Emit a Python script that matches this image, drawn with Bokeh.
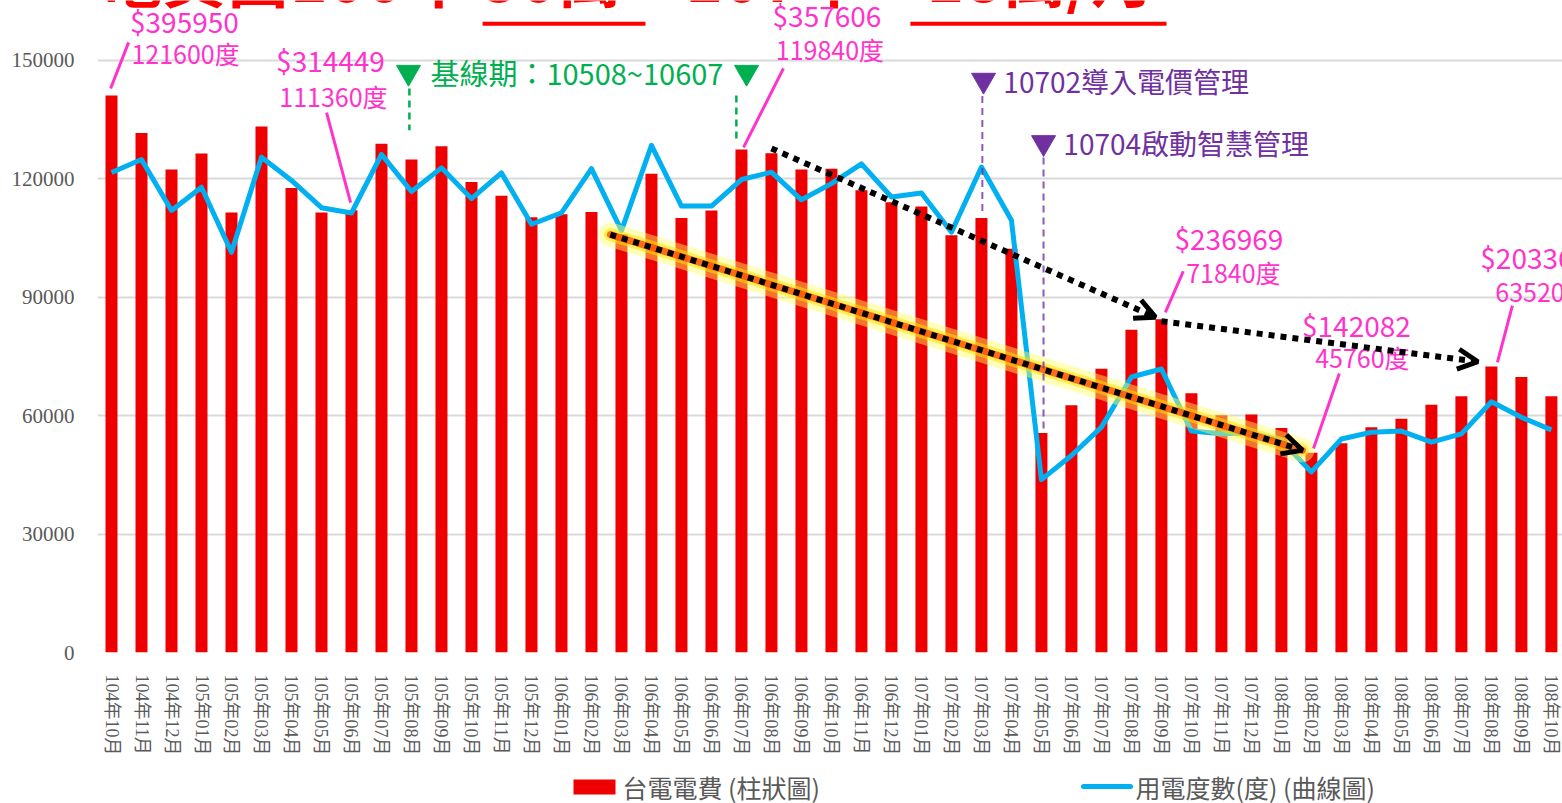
from bokeh.plotting import figure
from bokeh.layouts import column
from bokeh.models import (Range1d, FixedTicker, NumeralTickFormatter,
                          Arrow, OpenHead, ColumnDataSource)
from bokeh.core.properties import value
from bokeh.embed import file_html
from bokeh.resources import INLINE

# ---------------- data ----------------
months = ["104年10月", "104年11月", "104年12月",
          "105年01月", "105年02月", "105年03月", "105年04月", "105年05月", "105年06月",
          "105年07月", "105年08月", "105年09月", "105年10月", "105年11月", "105年12月",
          "106年01月", "106年02月", "106年03月", "106年04月", "106年05月", "106年06月",
          "106年07月", "106年08月", "106年09月", "106年10月", "106年11月", "106年12月",
          "107年01月", "107年02月", "107年03月", "107年04月", "107年05月", "107年06月",
          "107年07月", "107年08月", "107年09月", "107年10月", "107年11月", "107年12月",
          "108年01月", "108年02月", "108年03月", "108年04月", "108年05月", "108年06月",
          "108年07月", "108年08月", "108年09月", "108年10月"]

# 台電電費 (元) - bars, drawn on a hidden secondary scale
fee = [395950, 369300, 343400, 354700, 312900, 374000, 330300, 312900, 314449,
       361700, 350500, 360000, 334500, 324700, 309500, 311500, 313100, 297400,
       340400, 308900, 314300, 357606, 355000, 343400, 344000, 328600, 320200,
       317100, 296600, 308900, 287100, 156000, 175700, 201800, 229500, 236969,
       184400, 168600, 169200, 159700, 142082, 148700, 160200, 166100, 176200,
       182100, 203360, 195900, 182100]

# 用電度數 (度) - line
kwh = [121600, 124900, 112000, 117900, 101400, 125500, 119600, 112700, 111360,
       126200, 116800, 122800, 115000, 121500, 108500, 111400, 122600, 106900,
       128500, 113100, 113100, 119840, 121700, 114700, 118800, 123800, 115400,
       116400, 106500, 123000, 109500, 43800, 49900, 57100, 69800, 71840,
       56100, 55400, 55600, 53700, 45760, 54100, 55800, 56100, 53300,
       55400, 63520, 59600, 56400]

y_ticks = [0, 30000, 60000, 90000, 120000, 150000]
callout_idx = [0, 8, 21, 35, 40, 46]

title_text = "電費由100年 50萬↘107年：18萬/月"
legend_fee = "台電電費 (柱狀圖)"
legend_kwh = "用電度數(度) (曲線圖)"
baseline_text = "基線期：10508~10607"
event1_text = "10702導入電價管理"
event2_text = "10704啟動智慧管理"

assert len(months) == len(fee) == len(kwh) == 49

# ---------------- layout constants ----------------
FEE_RATIO = 2.806          # fee axis units per kWh axis unit
Y_END = 165200
X_START, X_END = -0.467, 48.37
W = 1562
LEFT = 97
MAIN_H, LEG_H = 760, 43

PINK = "#ff33cc"
GREEN = "#00b050"
PURPLE = "#7030a0"
RED = "#ee0000"
BLUE = "#00b0f0"
GRAY = "#595959"
CJK = value("Noto Sans CJK TC")

p = figure(width=W, height=MAIN_H, output_backend="svg", toolbar_location=None,
           x_range=Range1d(X_START, X_END), y_range=Range1d(0, Y_END),
           min_border_left=LEFT, min_border_right=0, min_border_top=0, min_border_bottom=108)
p.extra_y_ranges = {"fee": Range1d(0, Y_END * FEE_RATIO)}
p.outline_line_color = None
p.background_fill_color = "white"
p.border_fill_color = "white"

x = list(range(len(months)))
src = ColumnDataSource(dict(x=x, fee=fee, kwh=kwh))

bars = p.vbar(x="x", top="fee", width=0.4, source=src, y_range_name="fee",
              fill_color=RED, line_color=None)
line = p.line(x="x", y="kwh", source=src, line_color=BLUE, line_width=5,
              line_join="round")

# axes
p.xgrid.visible = False
p.ygrid.grid_line_color = "#d9d9d9"
p.ygrid.grid_line_width = 2
p.ygrid.ticker = FixedTicker(ticks=y_ticks)

p.yaxis.ticker = FixedTicker(ticks=y_ticks)
p.yaxis.formatter = NumeralTickFormatter(format="0")
p.yaxis.axis_line_color = None
p.yaxis.major_tick_line_color = None
p.yaxis.minor_tick_line_color = None
p.yaxis.major_label_standoff = 17
p.yaxis.major_label_text_font = "Liberation Serif"
p.yaxis.major_label_text_font_size = "21px"
p.yaxis.major_label_text_color = GRAY

p.xaxis.ticker = FixedTicker(ticks=x)
p.xaxis.major_label_overrides = {i: m for i, m in enumerate(months)}
p.xaxis.major_label_orientation = "vertical"
p.xaxis.axis_line_color = None
p.xaxis.major_tick_line_color = None
p.xaxis.minor_tick_line_color = None
p.xaxis.major_label_standoff = 16
p.xaxis.major_label_text_font = "Liberation Serif, Noto Sans CJK TC"
p.xaxis.major_label_text_font_size = "18px"
p.xaxis.major_label_text_color = GRAY

# ---------------- title (cut at the top edge, as in the source picture) ----------------
p.text(x=[-0.45], y=[172000], text=[title_text], text_font=CJK, text_font_size="64px",
       text_font_style="bold", text_color="#ff0000", text_baseline="middle")
p.segment(x0=[12.37, 26.63], y0=[159300, 159300], x1=[17.8, 35.17], y1=[159300, 159300],
          line_color="#ff0000", line_width=4)

# ---------------- trend lines ----------------
lx0, ly0 = 16.63, kwh[17] - 1000
lx1, ly1 = 39.7, fee[40] / FEE_RATIO + 600
for w, c, a in [(24, "#ffff66", 0.45), (13, "#ffe000", 0.55), (7, "#ff4000", 0.75)]:
    p.line([lx0, lx1], [ly0, ly1], line_width=w, line_color=c, line_alpha=a, line_cap="round")

arrows = [
    (22.0, fee[22] / FEE_RATIO + 1200, 34.8, fee[35] / FEE_RATIO + 500),
    (35.0, fee[35] / FEE_RATIO - 500, 45.55, fee[46] / FEE_RATIO + 1200),
    (lx0, ly0, lx1, ly1),
]
for xs, ys, xe, ye in arrows:
    p.add_layout(Arrow(x_start=xs, y_start=ys, x_end=xe, y_end=ye, line_color="black",
                       line_width=6, line_dash="6 6",
                       end=OpenHead(line_color="black", line_width=5, size=20)))

# ---------------- markers & event lines ----------------
p.segment(x0=[9.93, 20.83], y0=[142900, 141100], x1=[9.93, 20.83], y1=[132300, 129700],
          line_color=GREEN, line_width=2.5, line_dash="7 5")
p.scatter(x=[9.9, 21.17], y=[147000, 147000], marker="inverted_triangle", size=24,
          fill_color=GREEN, line_color=GREEN)
p.text(x=[10.63], y=[147000], text=[baseline_text], text_font=CJK, text_font_size="29px",
       text_color=GREEN, text_baseline="middle")

p.segment(x0=[29.03, 31.07], y0=[141000, 125400], x1=[29.03, 31.07], y1=[111000, 56300],
          line_color=PURPLE, line_width=2, line_dash="7 5", line_alpha=0.8)
p.scatter(x=[29.07, 31.07], y=[145000, 129200], marker="inverted_triangle", size=24,
          fill_color=PURPLE, line_color=PURPLE)
p.text(x=[29.73, 31.73], y=[144700, 129200], text=[event1_text, event2_text], text_font=CJK,
       text_font_size="28px", text_color=PURPLE, text_baseline="middle")

# ---------------- callouts (pink) ----------------
callout_lines = [(-0.03, 142900, 0.57, 154600),
                 (7.97, 114000, 7.17, 136800),
                 (21.07, 128000, 22.4, 148000),
                 (35.13, 86200, 35.73, 96600),
                 (40.07, 51700, 40.93, 70700),
                 (46.2, 73500, 46.7, 87900)]
p.segment(x0=[c[0] for c in callout_lines], y0=[c[1] for c in callout_lines],
          x1=[c[2] for c in callout_lines], y1=[c[3] for c in callout_lines],
          line_color=PINK, line_width=3)

fee_label_pos = [(2.43, 160100, "center"), (7.3, 150000, "center"), (23.85, 161400, "center"),
                 (37.25, 104900, "center"), (41.5, 82900, "center"), (45.63, 100100, "left")]
kwh_label_pos = [(2.47, 152000, "center"), (7.4, 140900, "center"), (23.95, 152800, "center"),
                 (37.4, 96500, "center"), (41.7, 74800, "center"), (46.13, 91700, "left")]
for k, i in enumerate(callout_idx):
    fx, fy, fa = fee_label_pos[k]
    kx, ky, ka = kwh_label_pos[k]
    p.text(x=[fx], y=[fy], text=[f"${fee[i]}"], text_font=CJK, text_font_size="28px",
           text_color=PINK, text_align=fa, text_baseline="middle")
    p.text(x=[kx], y=[ky], text=[f"{kwh[i]}度"], text_font=CJK, text_font_size="25px",
           text_color=PINK, text_align=ka, text_baseline="middle")

# ---------------- legend strip (small figure in page-pixel units, frame aligned with main) ----------------
lg = figure(width=W, height=LEG_H, output_backend="svg", toolbar_location=None,
            x_axis_location=None, y_axis_location=None,
            x_range=Range1d(LEFT, W), y_range=Range1d(0, LEG_H),
            min_border_left=LEFT, min_border_right=0, min_border_top=0, min_border_bottom=0)
lg.grid.visible = False
lg.outline_line_color = None
lg.background_fill_color = "white"
lg.border_fill_color = "white"
lg.quad(left=[573], right=[615], bottom=[9], top=[24], fill_color=RED, line_color=None)
lg.line(x=[1083, 1130], y=[17, 17], line_color=BLUE, line_width=5, line_cap="round")
lg.text(x=[622, 1135], y=[17, 17], text=[legend_fee, legend_kwh], text_font=CJK,
        text_font_size="25px", text_color=GRAY, text_baseline="middle")

layout = column(p, lg, spacing=0)
open("out.html", "w").write(file_html(layout, INLINE))
